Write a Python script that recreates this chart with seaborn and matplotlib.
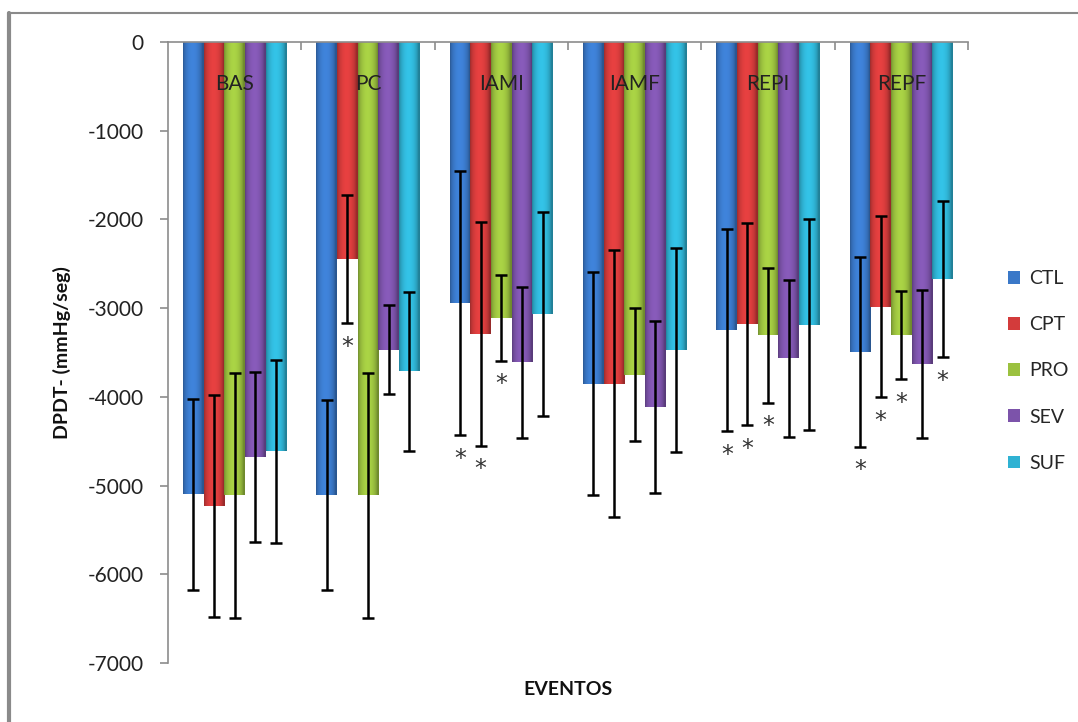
import matplotlib
matplotlib.use("Agg")
import matplotlib.pyplot as plt
from matplotlib.lines import Line2D
import numpy as np
import pandas as pd
import seaborn as sns

# ---------------- data ----------------
events = ["BAS", "PC", "IAMI", "IAMF", "REPI", "REPF"]
groups = ["CTL", "CPT", "PRO", "SEV", "SUF"]

ctl_mean = [-5100, -5110, -2940, -3850, -3250, -3490]
ctl_err = [1080, 1070, 1490, 1260, 1140, 1070]
cpt_mean = [-5230, -2450, -3290, -3850, -3180, -2985]
cpt_err = [1250, 720, 1260, 1500, 1140, 1020]
pro_mean = [-5110, -5110, -3110, -3750, -3305, -3305]
pro_err = [1380, 1380, 485, 750, 760, 495]
sev_mean = [-4680, -3470, -3610, -4110, -3565, -3625]
sev_err = [960, 500, 850, 970, 885, 835]
suf_mean = [-4615, -3710, -3070, -3470, -3185, -2675]
suf_err = [1030, 895, 1150, 1150, 1185, 880]

# significance markers (*) per group per event
ctl_sig = [False, False, True, False, True, True]
cpt_sig = [False, True, True, False, True, True]
pro_sig = [False, False, True, False, True, True]
sev_sig = [False, False, False, False, False, False]
suf_sig = [False, False, False, False, False, True]

means = [ctl_mean, cpt_mean, pro_mean, sev_mean, suf_mean]
errs = [ctl_err, cpt_err, pro_err, sev_err, suf_err]
sigs = [ctl_sig, cpt_sig, pro_sig, sev_sig, suf_sig]

colors = ["#3A78C8", "#D33B3B", "#9BC13F", "#7C53AA", "#2FB2D3"]

rows = []
for g, m in zip(groups, means):
    for e, v in zip(events, m):
        rows.append({"event": e, "group": g, "value": v})
df = pd.DataFrame(rows)

# ---------------- figure ----------------
sns.set_style("white")
plt.rcParams["font.family"] = ["Lato", "DejaVu Sans"]

W, H = 1078, 722
fig = plt.figure(figsize=(W / 100, H / 100), dpi=100)
ax = fig.add_axes([168 / W, 1 - 663 / H, 800 / W, 621 / H])

sns.barplot(data=df, x="event", y="value", hue="group", order=events,
            hue_order=groups, palette=colors, width=0.773, errorbar=None,
            saturation=1, linewidth=0, ax=ax, legend=True)
bar_conts = list(ax.containers)

# shading on bars (cylinder look)
prof = np.linspace(0, 1, 64)
shade = 0.72 + 0.38 * np.sin(np.pi * np.clip(prof * 1.08, 0, 1)) ** 0.6
for j, cont in enumerate(bar_conts):
    base = np.array(matplotlib.colors.to_rgb(colors[j]))
    img = np.clip(base[None, None, :] * shade[None, :, None], 0, 1)
    for bar in cont:
        x0 = bar.get_x()
        x1 = x0 + bar.get_width()
        y1 = bar.get_height()
        im = ax.imshow(img, extent=[x0, x1, y1, 0], aspect="auto",
                       interpolation="bilinear", zorder=2)
        im.set_clip_path(bar)

# error bars and asterisks
for j, cont in enumerate(bar_conts):
    xs = [b.get_x() + b.get_width() / 2 for b in cont]
    ax.errorbar(xs, means[j], yerr=errs[j], fmt="none", ecolor="black",
                elinewidth=1.8, capsize=4.0, capthick=1.8, zorder=4)
    for x, m, e, s in zip(xs, means[j], errs[j], sigs[j]):
        if s:
            ax.text(x, m - e - 265, "*", ha="center", va="center",
                    fontsize=17, color="#333333", zorder=5,
                    family="DejaVu Sans")

# category labels inside the bars at top
for i, e in enumerate(events):
    ax.text(i, -470, e, ha="center", va="center", fontsize=15,
            color="#222222", zorder=5)

ax.set_xlim(-0.5, 5.5)
ax.set_ylim(-7000, 0)
ax.set_yticks(np.arange(-7000, 1, 1000))
ax.set_yticklabels([str(v) for v in np.arange(-7000, 1, 1000)])

# axes styling
for s in ["right", "bottom"]:
    ax.spines[s].set_visible(False)
for s in ["left", "top"]:
    ax.spines[s].set_color("#8c8c8c")
    ax.spines[s].set_linewidth(1.2)
ax.tick_params(axis="y", direction="out", length=6, width=1.2,
               color="#8c8c8c", labelsize=15, labelcolor="#222222", pad=11.5,
               left=True)
ax.set_xticks([])
ax.set_xticks(np.arange(0.5, 6, 1), minor=True)
ax.tick_params(axis="x", which="minor", top=True, bottom=False,
               direction="in", length=6, width=1.2, color="#8c8c8c")
ax.tick_params(axis="x", which="major", bottom=False, top=False,
               labelbottom=False)

ax.set_ylabel("DPDT- (mmHg/seg)", fontsize=14, fontweight="bold",
              color="#111111", labelpad=12)
ax.set_xlabel("")
ax.text(0.5, -0.042, "EVENTOS", transform=ax.transAxes, ha="center",
        va="center", fontsize=14, fontweight="bold", color="#111111")

# legend
handles, labels = ax.get_legend_handles_labels()
ax.legend(handles, labels, loc="center left",
          bbox_to_anchor=(1000 / W, 1 - 371 / H),
          bbox_transform=fig.transFigure, frameon=False, fontsize=14,
          labelspacing=1.5, handlelength=0.65, handleheight=0.65,
          handletextpad=0.45, borderaxespad=0)

# outer frame lines (top and left)
fig.add_artist(Line2D([8 / W, 1], [1 - 13 / H, 1 - 13 / H],
                      transform=fig.transFigure, color="#8a8a8a", lw=1.5))
fig.add_artist(Line2D([9 / W, 9 / W], [0, 1 - 13 / H],
                      transform=fig.transFigure, color="#8a8a8a", lw=3))

fig.savefig("out.png", dpi=100)
